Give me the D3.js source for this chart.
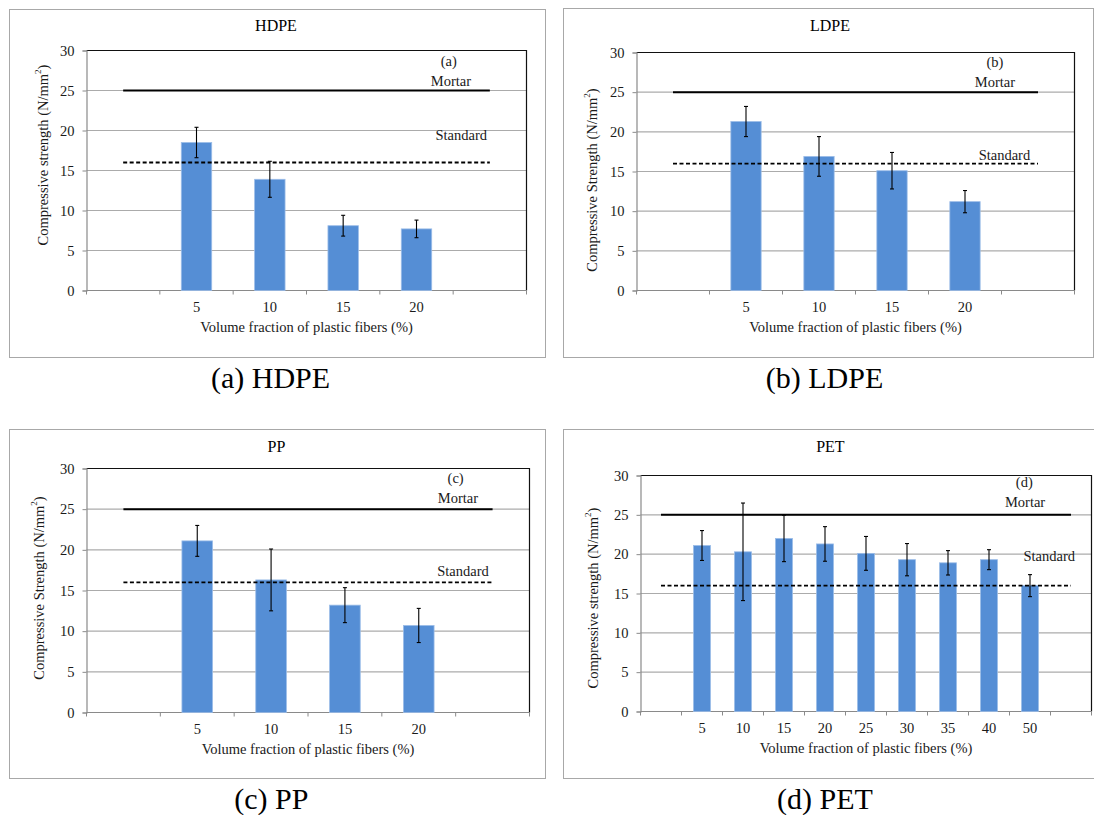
<!DOCTYPE html>
<html>
<head>
<meta charset="utf-8">
<script src="https://cdn.jsdelivr.net/npm/d3@7"></script>
<style>
  html, body { margin: 0; padding: 0; background: #ffffff; }
</style>
</head>
<body>
<svg id="chart" width="1094" height="815"></svg>
<script>
// ---- data -------------------------------------------------------------
const yTicks = [0, 5, 10, 15, 20, 25, 30];
const mortarStrength = 25;     // plain mortar reference
const standardStrength = 16;   // minimum required by the standard

const hdpeFractions = ["5", "10", "15", "20"];
const hdpeStrength  = [18.5, 13.9, 8.1, 7.7];
const hdpeError     = [1.9, 2.25, 1.3, 1.1];

const ldpeFractions = ["5", "10", "15", "20"];
const ldpeStrength  = [21.3, 16.9, 15.1, 11.2];
const ldpeError     = [1.9, 2.5, 2.3, 1.4];

const ppFractions = ["5", "10", "15", "20"];
const ppStrength  = [21.1, 16.3, 13.2, 10.7];
const ppError     = [1.9, 3.8, 2.15, 2.1];

const petFractions = ["5", "10", "15", "20", "25", "30", "35", "40", "50"];
const petStrength  = [21.1, 20.3, 22.0, 21.3, 20.1, 19.3, 18.9, 19.3, 16.0];
const petError     = [1.9, 6.2, 2.95, 2.2, 2.15, 2.05, 1.55, 1.27, 1.4];

// ---- layout of the four panels ---------------------------------------
const panels = [
  { title: "HDPE", tag: "(a)", caption: "(a) HDPE", yWord: "strength",
    fractions: hdpeFractions, strength: hdpeStrength, error: hdpeError,
    frame: [9.5, 9.5, 545.5, 357.5], plot: [86.5, 50.5, 526.5, 290.5],
    titleAt: [276, 30.7], yTitleAt: [43, 155], captionAt: [270.5, 388],
    notes: { tag: [4.94, 28.1], mortar: [4.97, 25.6], standard: [5.11, 18.8] } },
  { title: "LDPE", tag: "(b)", caption: "(b) LDPE", yWord: "Strength",
    fractions: ldpeFractions, strength: ldpeStrength, error: ldpeError,
    frame: [563.5, 8.5, 1093.5, 357.5], plot: [636.5, 52.5, 1074.5, 290.5],
    titleAt: [830, 30.7], yTitleAt: [592, 180], captionAt: [824.5, 388],
    notes: { tag: [4.91, 28.2], mortar: [4.91, 25.6], standard: [5.04, 16.5] } },
  { title: "PP", tag: "(c)", caption: "(c) PP", yWord: "Strength",
    fractions: ppFractions, strength: ppStrength, error: ppError,
    frame: [9.5, 429.5, 545.5, 778.5], plot: [86.5, 468.5, 529.5, 712.5],
    titleAt: [276.5, 451.7], yTitleAt: [39, 588], captionAt: [271.4, 809],
    notes: { tag: [5.0, 28.2], mortar: [5.03, 25.8], standard: [5.10, 16.8] } },
  { title: "PET", tag: "(d)", caption: "(d) PET", yWord: "strength",
    fractions: petFractions, strength: petStrength, error: petError,
    frame: [563.5, 429.5, 1094.5, 778.5], plot: [640.5, 475.5, 1091.5, 711.5],
    titleAt: [830.4, 452], yTitleAt: [593, 598], captionAt: [825, 809],
    notes: { tag: [9.36, 28.5], mortar: [9.38, 26.0], standard: [9.97, 19.1] } }
];

const SERIF = "'Liberation Serif', Tinos, 'Times New Roman', 'Nimbus Roman', 'Nimbus Roman No9 L', " +
              "'FreeSerif', 'Noto Serif', 'DejaVu Serif', Times, serif";
const BAR_FILL = "#558ED5";
const BAR_EDGE = "#9CBDE8";
const GRID = "#ababab";
const AXIS = "#8a8a8a";
const TEXT = "#1a1a1a";

const svg = d3.select("#chart").style("font-family", SERIF);

panels.forEach(p => {
  const g = svg.append("g").style("font-family", SERIF);
  const [fx0, fy0, fx1, fy1] = p.frame;
  const [px0, py0, px1, py1] = p.plot;
  const nSlots = p.fractions.length + 2;   // one empty slot at each end

  // outer chart frame
  g.append("rect")
    .attr("x", fx0).attr("y", fy0)
    .attr("width", fx1 - fx0).attr("height", fy1 - fy0)
    .attr("fill", "#fff").attr("stroke", "#a8a8a8").attr("stroke-width", 1);

  // scales
  const slots = ["_start", ...p.fractions, "_end"];
  const x = d3.scaleBand().domain(slots).range([px0, px1]).padding(0);
  const xu = d3.scaleLinear().domain([0, nSlots]).range([px0, px1]);
  const y = d3.scaleLinear().domain([0, 30]).range([py1, py0]);

  // horizontal gridlines
  g.append("g").selectAll("line")
    .data(yTicks.filter(t => t > 0 && t < 30))
    .join("line")
    .attr("x1", px0).attr("x2", px1)
    .attr("y1", d => y(d)).attr("y2", d => y(d))
    .attr("stroke", GRID).attr("stroke-width", 1.2);

  // plot-area border (top and right)
  g.append("path")
    .attr("d", `M${px0},${y(30)}H${px1}V${py1}`)
    .attr("fill", "none").attr("stroke", "#111").attr("stroke-width", 1.2);

  // y axis with outward ticks
  const yAxis = d3.axisLeft(y).tickValues(yTicks).tickSize(4).tickPadding(8);
  const ya = g.append("g").attr("transform", `translate(${px0},0)`).call(yAxis)
    .attr("font-family", null).attr("font-size", 14.5);
  ya.select(".domain").attr("stroke", AXIS).attr("stroke-width", 1.2);
  ya.selectAll(".tick line").attr("stroke", AXIS);
  ya.selectAll(".tick text").attr("fill", TEXT).style("font-family", SERIF);

  // x axis line and category boundary ticks
  g.append("line")
    .attr("x1", px0).attr("x2", px1).attr("y1", py1).attr("y2", py1)
    .attr("stroke", AXIS).attr("stroke-width", 1.2);
  g.append("g").selectAll("line")
    .data(d3.range(nSlots + 1))
    .join("line")
    .attr("x1", i => xu(i)).attr("x2", i => xu(i))
    .attr("y1", py1).attr("y2", py1 + 4)
    .attr("stroke", AXIS).attr("stroke-width", 1);

  // category labels under each slot
  g.append("g").selectAll("text")
    .data(p.fractions)
    .join("text")
    .attr("x", d => x(d) + x.bandwidth() / 2)
    .attr("y", py1 + 21.7)
    .attr("text-anchor", "middle")
    .attr("font-size", 14.5).attr("fill", TEXT)
    .text(d => d);

  // bars
  const barW = x.bandwidth() * 0.415;
  const rows = p.fractions.map((f, i) => ({ f, v: p.strength[i], e: p.error[i] }));
  g.append("g").selectAll("rect")
    .data(rows)
    .join("rect")
    .attr("x", d => x(d.f) + (x.bandwidth() - barW) / 2)
    .attr("y", d => y(d.v))
    .attr("width", barW)
    .attr("height", d => y(0) - y(d.v))
    .attr("fill", BAR_FILL).attr("stroke", BAR_EDGE).attr("stroke-width", 0.8);

  // error bars
  const eg = g.append("g").attr("stroke", "#000").attr("stroke-width", 1.1);
  rows.forEach(d => {
    const cx = x(d.f) + x.bandwidth() / 2;
    eg.append("line").attr("x1", cx).attr("x2", cx)
      .attr("y1", y(d.v + d.e)).attr("y2", y(d.v - d.e));
    [d.v + d.e, d.v - d.e].forEach(v => {
      eg.append("line").attr("x1", cx - 2).attr("x2", cx + 2)
        .attr("y1", y(v)).attr("y2", y(v));
    });
  });

  // mortar (solid) and standard (dashed) reference lines
  g.append("line")
    .attr("x1", xu(0.5)).attr("x2", xu(nSlots - 0.5))
    .attr("y1", y(mortarStrength)).attr("y2", y(mortarStrength))
    .attr("stroke", "#000").attr("stroke-width", 2);
  g.append("line")
    .attr("x1", xu(0.5)).attr("x2", xu(nSlots - 0.5))
    .attr("y1", y(standardStrength)).attr("y2", y(standardStrength))
    .attr("stroke", "#000").attr("stroke-width", 1.8)
    .attr("stroke-dasharray", "4,2.5");

  // annotations inside the plot
  const note = (txt, pos) => g.append("text")
    .attr("x", xu(pos[0])).attr("y", y(pos[1]))
    .attr("text-anchor", "middle").attr("font-size", 14.5).attr("fill", TEXT)
    .text(txt);
  note(p.tag, p.notes.tag);
  note("Mortar", p.notes.mortar);
  note("Standard", p.notes.standard);

  // chart title
  g.append("text")
    .attr("x", p.titleAt[0]).attr("y", p.titleAt[1])
    .attr("text-anchor", "middle").attr("font-size", 16).attr("fill", "#000")
    .text(p.title);

  // axis titles
  g.append("text")
    .attr("x", (px0 + px1) / 2).attr("y", py1 + 41.5)
    .attr("text-anchor", "middle").attr("font-size", 14.5).attr("fill", TEXT)
    .text("Volume fraction of plastic fibers (%)");

  const yt = g.append("text")
    .attr("transform", `translate(${p.yTitleAt[0]},${p.yTitleAt[1]}) rotate(-90)`)
    .attr("text-anchor", "middle").attr("dominant-baseline", "central")
    .attr("font-size", 14.5).attr("fill", TEXT);
  yt.append("tspan").text(`Compressive ${p.yWord} (N/mm`);
  yt.append("tspan").attr("font-size", 9).attr("dy", -5).text("2");
  yt.append("tspan").attr("dy", 5).text(")");

  // sub-figure caption
  svg.append("text")
    .attr("x", p.captionAt[0]).attr("y", p.captionAt[1])
    .attr("text-anchor", "middle").attr("font-size", 30).attr("fill", "#000")
    .text(p.caption);
});
</script>
</body>
</html>
